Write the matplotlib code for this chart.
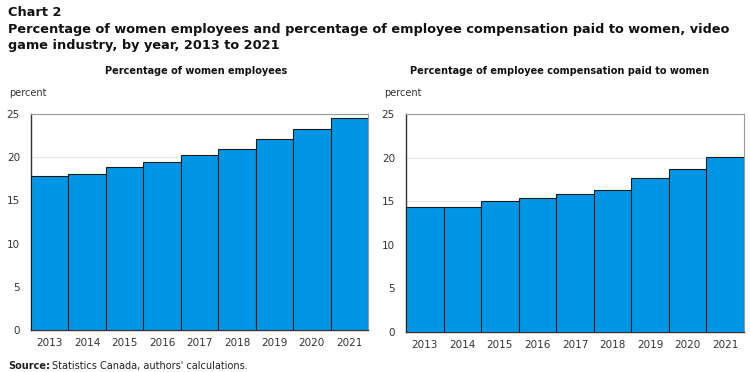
import numpy as np
from matplotlib import pyplot as plt

# data
years = ["2013", "2014", "2015", "2016", "2017", "2018", "2019", "2020", "2021"]
women_employees = [17.8, 18.05, 18.9, 19.5, 20.2, 21.0, 22.1, 23.3, 24.5]
women_compensation = [14.3, 14.3, 15.0, 15.4, 15.8, 16.3, 17.7, 18.65, 20.05]
yticks = [0, 5, 10, 15, 20, 25]

bar_color = "#0096E6"
W, H = 750, 372

fig = plt.figure(figsize=(7.5, 3.72), dpi=100)


def make_panel(left, right, top, bottom, values, title, title_x):
    ax = fig.add_axes([left / W, 1 - bottom / H, (right - left) / W, (bottom - top) / H])
    x = np.arange(len(years))
    ax.bar(x, values, width=1.0, color=bar_color, edgecolor="#1a1a1a", linewidth=0.8, zorder=3)
    ax.set_xlim(-0.5, len(years) - 0.5)
    ax.set_ylim(0, 25)
    ax.set_yticks(yticks)
    ax.set_xticks(x)
    ax.set_xticklabels(years)
    ax.yaxis.grid(True, color="#e6e6e6", linewidth=0.8, zorder=0)
    ax.tick_params(axis="both", length=0, labelsize=7.5, colors="#333333", pad=6)
    ax.tick_params(axis="y", pad=8)
    for s in ["top", "right"]:
        ax.spines[s].set_color("#999999")
        ax.spines[s].set_linewidth(0.8)
    for s in ["left", "bottom"]:
        ax.spines[s].set_color("#333333")
        ax.spines[s].set_linewidth(1.0)
    fig.text(title_x / W, 1 - 71 / H, title, ha="center", va="center",
             fontsize=7, fontweight="bold", color="#111111")
    fig.text((left - 22) / W, 1 - 93 / H, "percent", ha="left", va="center",
             fontsize=7, color="#333333")
    return ax


make_panel(31, 368, 114, 330, women_employees, "Percentage of women employees", 196)
make_panel(406, 744, 114, 332, women_compensation,
           "Percentage of employee compensation paid to women", 560)

fig.text(8 / W, 1 - 12 / H, "Chart 2", fontsize=9.3, fontweight="bold", va="center", color="#111111")
fig.text(8 / W, 1 - 30 / H,
         "Percentage of women employees and percentage of employee compensation paid to women, video",
         fontsize=9.3, fontweight="bold", va="center", color="#111111")
fig.text(8 / W, 1 - 45 / H, "game industry, by year, 2013 to 2021",
         fontsize=9.3, fontweight="bold", va="center", color="#111111")

fig.text(8 / W, 1 - 366 / H, "Source:", fontsize=7, fontweight="bold",
         va="center", color="#222222")
fig.text(52 / W, 1 - 366 / H, "Statistics Canada, authors' calculations.",
         fontsize=7, va="center", color="#222222")

fig.savefig("out.png", dpi=100)
